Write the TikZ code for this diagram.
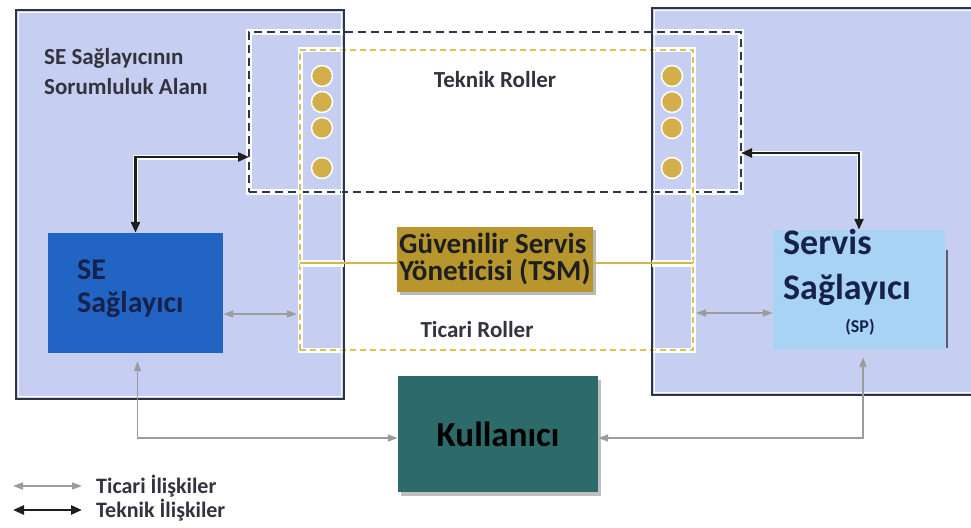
\documentclass[tikz,border=0pt]{standalone}
\usepackage{fontspec}
\setmainfont{Carlito}[Ligatures=CommonOff]
\usetikzlibrary{arrows.meta,shadows,calc}
\definecolor{boxfill}{HTML}{C6CEF1}
\definecolor{borderc}{HTML}{2E3446}
\definecolor{navyd}{HTML}{2B3556}
\definecolor{ydash}{HTML}{D9C45A}
\definecolor{tsmline}{HTML}{D4B64A}
\definecolor{dotc}{HTML}{D2AF4A}
\definecolor{seblue}{HTML}{2264C3}
\definecolor{setext}{HTML}{16224A}
\definecolor{tsmc}{HTML}{B8962E}
\definecolor{spc}{HTML}{A9D3F4}
\definecolor{kulc}{HTML}{2C6B6A}
\definecolor{commc}{HTML}{9C9C9C}
\definecolor{techc}{HTML}{1E1E1E}
\definecolor{labc}{HTML}{33333D}
\begin{document}
\begin{tikzpicture}[x=1pt,y=-1pt,
  font=\bfseries,
  areafill/.style={fill=boxfill, draw=none, inner sep=0pt},
  tekbox/.style={draw=navyd, line width=2.3pt, dash pattern=on 8pt off 5pt, inner sep=0pt,
     preaction={draw=white, line width=5.5pt, solid}},
  ticbox/.style={draw=ydash, line width=1.8pt, dash pattern=on 6pt off 4pt, inner sep=0pt,
     preaction={draw=white, line width=5pt, solid}},
  dot/.style={circle, fill=dotc, draw=white, line width=1.5pt, minimum size=21pt, inner sep=0pt},
  tech/.style={draw=techc, line width=2.6pt, {Triangle[length=11pt,width=9pt]}-{Triangle[length=11pt,width=9pt]},
     preaction={draw=white, line width=5pt}},
  comm/.style={draw=commc, line width=1.6pt, {Triangle[length=10pt,width=7pt]}-{Triangle[length=10pt,width=7pt]}},
  lab/.style={text=labc, inner sep=0pt}
]
\useasboundingbox (0,0) rectangle (971,527);
\fill[white] (0,0) rectangle (971,527);

% responsibility areas
\node[areafill, minimum width=328pt, minimum height=389pt] (leftarea) at (180,204.5) {};
\node[areafill, minimum width=340pt, minimum height=387pt] (rightarea) at (822,201.5) {};

% role boxes
\node[tekbox, minimum width=492pt, minimum height=160pt] (tek) at (495,112) {};
\node[ticbox, minimum width=393pt, minimum height=300pt] (tic) at (496.5,200) {};

% area borders
\draw[borderc, line width=2pt] (leftarea.north west) rectangle (leftarea.south east);
\draw[white, line width=1.3pt] ($(leftarea.north west)+(3,3)$) rectangle ($(leftarea.south east)+(-3,-3)$);
\draw[borderc, line width=2pt] (rightarea.north east) -- (rightarea.north west) -- (rightarea.south west) -- (rightarea.south east);
\draw[white, line width=1.3pt] ($(rightarea.north east)+(0,3)$) -- ($(rightarea.north west)+(3,3)$) -- ($(rightarea.south west)+(3,-3)$) -- ($(rightarea.south east)+(0,-3)$);

% circles
\foreach \i/\yy in {1/76,2/102,3/128,4/168}{
  \node[dot] (cl\i) at (322,\yy) {};
  \node[dot] (cr\i) at (672,\yy) {};
}

% TSM
\node[fill=tsmc, minimum width=196pt, minimum height=65pt, inner sep=0pt,
      drop shadow={opacity=0.55, shadow xshift=3pt, shadow yshift=-3pt}] (tsm) at (495,259.5) {};
\node[anchor=west, align=left, text=techc, inner sep=0pt, font=\fontsize{29}{27}\selectfont\bfseries] (tsmtxt) at (399,259) {Güvenilir Servis\\Yöneticisi (TSM)};

\coordinate (ticL) at (300,263);
\coordinate (ticR) at (693,263);
\draw[white, line width=7pt] (ticL) -- (344,263);
\draw[white, line width=7pt] (652,263) -- (ticR);
\draw[tsmline, line width=1.5pt] (ticL) -- (tsm.west |- ticL);
\draw[tsmline, line width=1.5pt] (tsm.east |- ticR) -- (ticR);

% labels
\node[lab, anchor=west, align=left, font=\fontsize{23}{30}\selectfont\bfseries] (title) at (44,72) {SE Sağlayıcının\\Sorumluluk Alanı};
\node[lab, font=\fontsize{23}{26}\selectfont\bfseries] (tekt) at (495,80) {Teknik Roller};
\node[lab, font=\fontsize{23}{26}\selectfont\bfseries] (tict) at (477,330) {Ticari Roller};

% SE provider
\node[fill=seblue, minimum width=175pt, minimum height=120pt, inner sep=0pt] (se) at (135.5,293) {};
\node[anchor=west, align=left, text=setext, inner sep=0pt, font=\fontsize{30}{33}\selectfont\bfseries] (setxt) at (77,289) {SE\\Sağlayıcı};

% Service provider
\node[fill=spc, minimum width=172pt, minimum height=120pt, inner sep=0pt] (sp) at (859,290) {};
\draw[borderc!80, line width=1.5pt] ([xshift=2pt,yshift=-20pt]sp.north east) -- ([xshift=2pt,yshift=2pt]sp.south east);
\node[anchor=west, align=left, text=setext, inner sep=0pt, font=\fontsize{36}{45}\selectfont\bfseries] (sptxt) at (783,267) {Servis\\Sağlayıcı};
\node[text=setext, inner sep=0pt, font=\fontsize{18}{20}\selectfont\bfseries] (spab) at (860,327) {(SP)};

% User
\node[fill=kulc, minimum width=200pt, minimum height=116pt, inner sep=0pt, text=black,
      font=\fontsize{35}{40}\selectfont\bfseries,
      drop shadow={opacity=0.5, shadow xshift=3pt, shadow yshift=-4pt}] (kul) at (498,434) {Kullanıcı};

% technical relations
\coordinate (tekL) at (249,157);
\coordinate (tekR) at (741,153);
\draw[tech] (se.north) |- (tekL);
\draw[tech] (tekR) -| (sp.north);

% commercial relations
\coordinate (ticLa) at (297,314);
\coordinate (ticRa) at (696,313);
\draw[comm] ([yshift=-21pt]se.east) -- (ticLa);
\draw[comm] (ticRa) -- ([yshift=-23pt]sp.west);
\draw[comm] ([xshift=2pt,yshift=-8pt]se.south) |- ([yshift=-4pt]kul.west);
\draw[comm] ([xshift=4pt,yshift=-7pt]sp.south) |- ([yshift=-4pt]kul.east);

% legend
\coordinate (lg1a) at (13,486);
\coordinate (lg1b) at (82,486);
\coordinate (lg2a) at (13,510);
\coordinate (lg2b) at (82,510);
\draw[comm] (lg1a) -- (lg1b);
\draw[tech] (lg2a) -- (lg2b);
\node[lab, anchor=west, font=\fontsize{22}{24}\selectfont\bfseries] (lg1) at (96,486) {Ticari İlişkiler};
\node[lab, anchor=west, font=\fontsize{22}{24}\selectfont\bfseries] (lg2) at (96,510) {Teknik İlişkiler};
\end{tikzpicture}
\end{document}
